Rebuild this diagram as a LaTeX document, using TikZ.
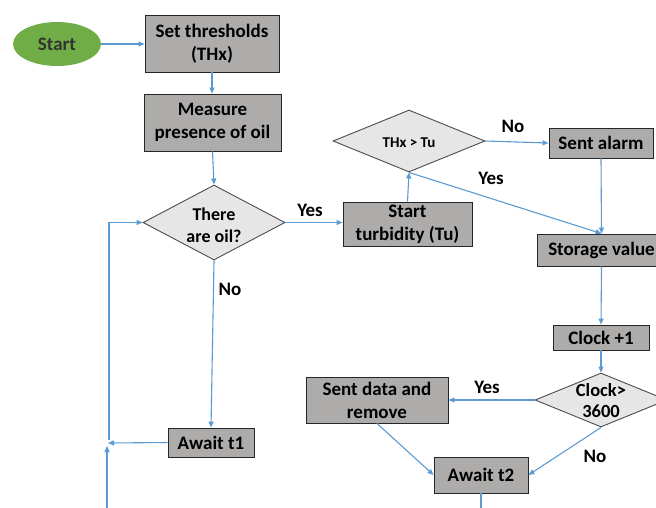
\documentclass[tikz,border=0pt]{standalone}
\usepackage{fontspec}
\setmainfont{Carlito}
\usetikzlibrary{shapes.geometric,arrows.meta}
\definecolor{arr}{HTML}{5B9BD5}
\definecolor{boxfill}{HTML}{AEABAB}
\definecolor{dfill}{HTML}{E7E6E6}
\definecolor{startg}{HTML}{70AD47}
\definecolor{starttxt}{HTML}{333333}
\newcommand{\dtxt}[1]{\makebox[0pt]{\smash{\raisebox{-0.5\height}{\begin{tabular}[b]{@{}c@{}}#1\end{tabular}}}}}
\tikzset{
  box/.style={rectangle, draw=black!85, line width=0.9pt, fill=boxfill, inner sep=0pt, align=center, font=\bfseries\fontsize{19}{23}\selectfont},
  dec/.style={diamond, draw=black!70, line width=0.9pt, fill=dfill, inner sep=0pt},
  conn/.style={draw=arr, line width=1.1pt, -{Triangle[length=6pt,width=5pt]}},
  plain/.style={draw=arr, line width=1.1pt},
  lbl/.style={font=\bfseries\fontsize{19}{23}\selectfont, inner sep=0pt}
}
\begin{document}
\begin{tikzpicture}[x=1pt,y=-1pt]
\useasboundingbox (0,0) rectangle (656,507);
\clip (0,0) rectangle (656,507);
\fill[white] (0,0) rectangle (656,507);
% nodes
\node[ellipse, fill=startg, minimum width=88pt, minimum height=44pt, inner sep=0pt, text=starttxt, font=\bfseries\fontsize{19}{23}\selectfont] (start) at (57,44) {Start};
\node[box, minimum width=134pt, minimum height=57pt] (set) at (212,43.5) {Set thresholds\\(THx)};
\node[box, minimum width=137pt, minimum height=57pt] (meas) at (212.5,122.5) {Measure\\presence of oil};
\node[dec, minimum width=142pt, minimum height=75pt, font=\bfseries\fontsize{18}{22}\selectfont] (oil) at (214,222.5) {\raisebox{-2pt}{\dtxt{There\\are oil?}}};
\node[box, minimum width=129pt, minimum height=44pt] (tu) at (407.5,224) {Start\\turbidity (Tu)};
\node[dec, minimum width=152pt, minimum height=62pt, font=\bfseries\fontsize{15}{18}\selectfont] (thx) at (409,141) {\dtxt{THx > Tu}};
\node[box, minimum width=104pt, minimum height=30pt] (alarm) at (601,143) {Sent alarm};
\node[box, minimum width=129pt, minimum height=32pt] (stor) at (601.5,250) {Storage value};
\node[box, minimum width=96pt, minimum height=25pt] (clk1) at (601,337.5) {Clock +1};
\node[dec, minimum width=132pt, minimum height=54pt, font=\bfseries\fontsize{18.5}{21}\selectfont] (clk) at (601,400) {\dtxt{Clock>\\3600}};
\node[box, minimum width=142pt, minimum height=46pt] (send) at (377,400) {Sent data and\\remove};
\node[box, minimum width=94pt, minimum height=36pt] (aw2) at (481,475) {Await t2};
\node[box, minimum width=86pt, minimum height=29pt] (aw1) at (211,442.5) {Await t1};
% free-end coordinates
\coordinate (aw2out) at (481,510);
\coordinate (loopin) at (108,443);
\coordinate (loopbot) at (107,510);
\coordinate (loopup) at (107,446);
\coordinate (looptop) at (109,440);
% connectors
\draw[conn] (start.east) -- (set.west |- start.east);
\draw[conn] (set.south) -- (meas.north -| set.south);
\draw[conn] (meas.south) -- (oil.north);
\draw[conn] (oil.east) -- (oil.east -| tu.west);
\draw[conn] (oil.south) -- (aw1.north);
\draw[conn] (tu.north) -- (thx.south);
\draw[conn] (thx.east) -- (alarm.west);
\draw[conn] (thx.south) -- (stor.north);
\draw[conn] (alarm.south) -- (stor.north);
\draw[conn] (stor.south) -- (clk1.north);
\draw[conn] (clk1.south) -- (clk.north);
\draw[conn] (clk.west) -- (send.east);
\draw[conn] (send.south) -- (aw2.west);
\draw[conn] (clk.south) -- (aw2.east);
\draw[plain] (aw2.south) -- (aw2out);
\draw[conn] (aw1.west) -- (loopin);
\draw[conn] (loopbot) -- (loopup);
\draw[conn] (looptop) |- (oil.west);
% labels
\node[lbl] (l1) at (310,210) {Yes};
\node[lbl] (l2) at (230,289) {No};
\node[lbl] (l3) at (513,126) {No};
\node[lbl] (l4) at (491,178) {Yes};
\node[lbl] (l5) at (487,387) {Yes};
\node[lbl] (l6) at (595,456) {No};
\end{tikzpicture}
\end{document}
